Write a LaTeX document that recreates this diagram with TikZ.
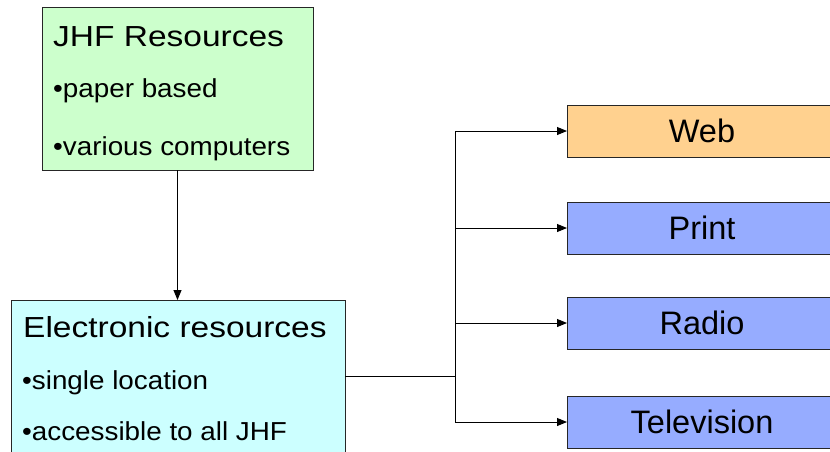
\documentclass[tikz,border=0pt]{standalone}
\usepackage{fontspec}
\setmainfont{Liberation Sans}
\usepackage{graphicx}
\usetikzlibrary{arrows.meta}
\definecolor{jgreen}{HTML}{CCFFCC}
\definecolor{ecyan}{HTML}{CCFFFF}
\definecolor{worange}{HTML}{FFD18F}
\definecolor{mblue}{HTML}{96ACFF}
\definecolor{edge}{HTML}{262626}
\newcommand{\hs}[2]{\scalebox{#1}[1]{#2}}
\begin{document}
\begin{tikzpicture}[x=1pt,y=-1pt,
  box/.style={draw=edge, line width=1pt, inner sep=0pt, outer sep=0pt},
  ttl/.style={anchor=base west, inner sep=0pt, font=\fontsize{29}{29}\selectfont},
  bul/.style={anchor=base west, inner sep=0pt, font=\fontsize{26}{26}\selectfont},
  media/.style={box, anchor=west, minimum width=270pt, minimum height=52pt, font=\fontsize{32.5}{32.5}\selectfont},
  arr/.style={draw=black, line width=0.9pt, -{Triangle[length=10pt,width=8pt]}},
  link/.style={draw=black, line width=0.9pt}]
\useasboundingbox (0,0) rectangle (830,451);
\clip (0,0) rectangle (830,451);
\fill[white] (0,0) rectangle (830,451);
% left boxes
\node[box, fill=jgreen, minimum width=271pt, minimum height=163pt, anchor=north west] (jhf) at (42,7) {};
\node[ttl] (jhft) at (53,46) {\hs{1.155}{JHF Resources}};
\node[bul] (jhfa) at (53,97) {\hs{1.07}{•paper based}};
\node[bul] (jhfb) at (53,155) {\hs{1.07}{•various computers}};
\node[box, fill=ecyan, minimum width=334pt, minimum height=153pt, anchor=north west] (elec) at (11,300) {};
\node[ttl] (elect) at (23,337) {\hs{1.155}{Electronic resources}};
\node[bul] (eleca) at (22,389) {\hs{1.07}{•single location}};
\node[bul] (elecb) at (22,440) {\hs{1.07}{•accessible to all JHF}};
% right boxes
\node[media, fill=worange] (web) at (567,131) {Web};
\node[media, fill=mblue] (print) at (567,228) {Print};
\node[media, fill=mblue] (radio) at (567,323) {Radio};
\node[media, fill=mblue] (tv) at (567,422) {Television};
% connectors
\draw[arr] (jhf.south) -- (jhf.south |- elec.north);
\coordinate (j) at (455,376);
\draw[link] (elec.east |- j) -- (j);
\draw[arr] (j) |- (web.west);
\draw[arr] (j) |- (print.west);
\draw[arr] (j) |- (radio.west);
\draw[arr] (j) |- (tv.west);
\end{tikzpicture}
\end{document}
